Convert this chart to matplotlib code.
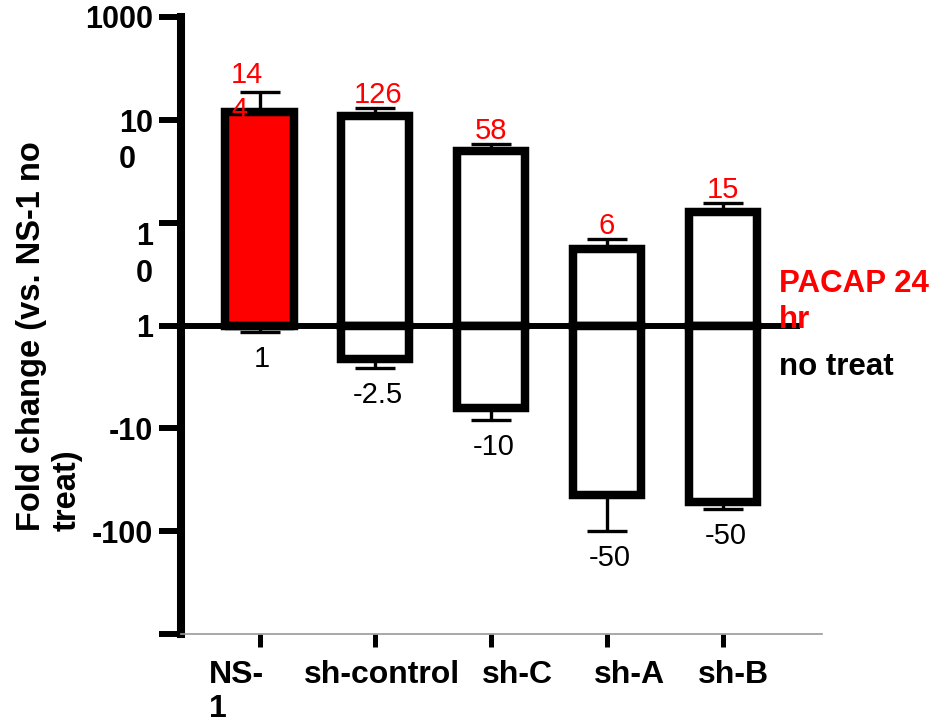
import numpy as np
import matplotlib
matplotlib.use("Agg")
import matplotlib.pyplot as plt
from matplotlib.transforms import ScaledTranslation

plt.rcParams['font.family'] = ['Liberation Sans', 'DejaVu Sans']

# ---------------- data ----------------
categories = ["NS-\n1", "sh-control", "sh-C", "sh-A", "sh-B"]
up_mean = [119, 108, 50, 5.6, 12.6]          # PACAP 24 hr bar tops
up_cap = [187, 131, 58, 6.9, 15.5]           # upper error-bar ends
down_mean = [-1, -2.1, -6.4, -44.5, -51.5]   # no treat bar bottoms
down_cap = [-1.16, -2.6, -8.3, -100, -61]    # lower error-bar ends
up_labels = ["14\n4", "126", "58", "6", "15"]
down_labels = ["1", "-2.5", "-10", "-50", "-50"]
fills = ["#ff0000", "white", "white", "white", "white"]
ytick_values = [1000, 100, 10, 1, -10, -100, -1000]
ytick_labels = ["1000", "10\n0", "1\n0", "1", "-10", "-100", ""]
ylabel_text = "Fold change (vs. NS-1 no\ntreat)"
legend_up = "PACAP 24\nhr"
legend_down = "no treat"

# ---------------- scale: signed log fold change ----------------
def fwd(v):
    v = np.asarray(v, dtype=float)
    return np.sign(v) * np.log10(np.maximum(np.abs(v), 1.0))

def inv(u):
    u = np.asarray(u, dtype=float)
    return np.where(u >= 0, 10.0 ** np.abs(u), -(10.0 ** np.abs(u)))

W, H = 953, 726
fig = plt.figure(figsize=(W / 100, H / 100), dpi=100)
ax = fig.add_axes([181 / W, 1 - 634 / H, (822 - 181) / W, (634 - 17) / H])
ax.set_yscale('function', functions=(fwd, inv))
ax.set_ylim(-1000, 1000)
ax.set_xlim(-0.678, 4.857)

x = np.arange(len(categories))
up = np.array(up_mean, float)
dn = np.array(down_mean, float)
upc = np.array(up_cap, float)
dnc = np.array(down_cap, float)

bar_w = 0.59
edge_lw = 6.1

# error bars (behind bars)
ax.errorbar(x, up, yerr=[np.zeros_like(up), upc - up], fmt='none',
            ecolor='black', elinewidth=2.4, capsize=14.5, capthick=2.4, zorder=1)
ax.errorbar(x, dn, yerr=[dn - dnc, np.zeros_like(dn)], fmt='none',
            ecolor='black', elinewidth=2.4, capsize=14.5, capthick=2.4, zorder=1)

# bars
ax.bar(x, up - 1, bottom=1, width=bar_w, color=fills, edgecolor='black',
       linewidth=edge_lw, zorder=2)
ax.bar(x, dn - 1, bottom=1, width=bar_w, color='white', edgecolor='black',
       linewidth=edge_lw, zorder=2)

# baseline at 1
ax.axhline(1, xmin=0, xmax=0.961, color='black', linewidth=4.3, zorder=2.5)

# value labels (va='baseline' aligns the last line)
up_style = [dict(ha='left', dx=-20.5, dy=-18.7), dict(ha='center', dx=2, dy=3.5),
            dict(ha='center', dx=0, dy=3.5), dict(ha='center', dx=0, dy=3.5),
            dict(ha='center', dx=0, dy=3.5)]
for xi, c, lab, st in zip(x, upc, up_labels, up_style):
    ax.annotate(lab, xy=(xi, c), xytext=(st['dx'], st['dy']), textcoords='offset points',
                ha=st['ha'], va='baseline', color='#ff0000', fontsize=21,
                linespacing=1.3, zorder=4)
for xi, c, lab in zip(x, dnc, down_labels):
    ax.annotate(lab, xy=(xi, c), xytext=(2, -9.5), textcoords='offset points',
                ha='center', va='top', color='black', fontsize=21, zorder=4)

# axes styling
for s in ['top', 'right']:
    ax.spines[s].set_visible(False)
ax.spines['left'].set_linewidth(5.8)
ax.spines['left'].set_color('black')
ax.spines['bottom'].set_linewidth(1.2)
ax.spines['bottom'].set_color('#9a9a9a')

ax.set_yticks(ytick_values)
ax.set_yticklabels(ytick_labels, fontsize=22, fontweight='bold', linespacing=1.3)
ax.yaxis.set_minor_locator(matplotlib.ticker.NullLocator())
ax.tick_params(axis='y', length=16, width=4.3, color='black', pad=4)
ytick_shift_pt = [0, -35, -42.5, 0, 0, 0, 0]
for lbl, sh in zip(ax.get_yticklabels(), ytick_shift_pt):
    lbl.set_multialignment('left')
    if '\n' in lbl.get_text():
        lbl.set_va('baseline')
        lbl.set_transform(lbl.get_transform() + ScaledTranslation(0, sh / 72, fig.dpi_scale_trans))
    else:
        lbl.set_va('center_baseline')

ax.set_xticks(x)
ax.set_xticklabels(categories, fontsize=23, fontweight='bold', linespacing=1.2)
ax.tick_params(axis='x', length=9.5, width=3.6, color='black', pad=9)
xlab_dx = [3, 5, 19, 16, 8]  # label shifts in points
for i, (lbl, dx) in enumerate(zip(ax.get_xticklabels(), xlab_dx)):
    if i == 0:
        lbl.set_ha('right')
        lbl.set_multialignment('left')
    lbl.set_transform(lbl.get_transform() + ScaledTranslation(dx / 72, 0, fig.dpi_scale_trans))

# y label
fig.text(49 / W, 1 - 336 / H, ylabel_text, rotation=90, ha='center', va='center',
         multialignment='left', fontsize=23.5, fontweight='bold', linespacing=1.2)

# legend texts
fig.text(779 / W, 1 - 328 / H, legend_up, color='#ff0000', fontsize=22.5,
         fontweight='bold', ha='left', va='baseline', linespacing=1.25)
fig.text(779 / W, 1 - 375 / H, legend_down, color='black', fontsize=22.5,
         fontweight='bold', ha='left', va='baseline')

fig.savefig("out.png", dpi=100)
